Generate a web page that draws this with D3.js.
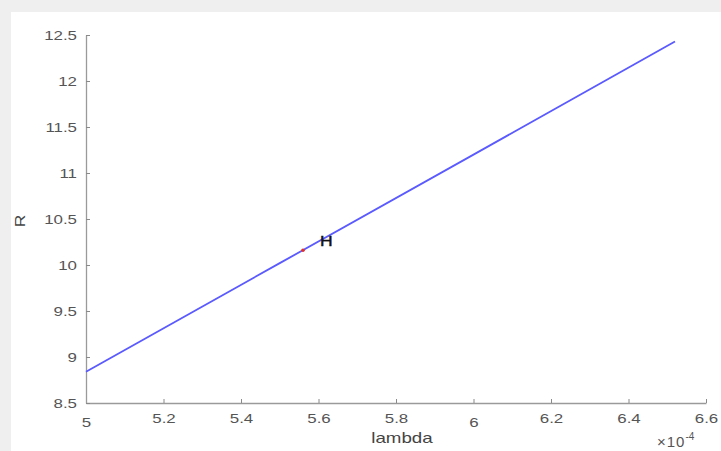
<!DOCTYPE html>
<html>
<head>
<meta charset="utf-8">
<script src="https://cdn.jsdelivr.net/npm/d3@7"></script>
<style>
  html, body { margin: 0; padding: 0; background: #efefef; }
  svg { display: block; }
  text { font-family: "Liberation Sans", Arial, sans-serif; }
</style>
</head>
<body>
<svg id="chart"></svg>
<script>
// values (lambda in units of 1e-4)
const lambda = [5.0, 5.5, 6.0, 6.52];
const R = [8.84, 10.02, 11.2, 12.43];
const pointLambda = [5.56];
const pointR = [10.16];
const pointLabel = ['H'];
const xTicks = [5, 5.2, 5.4, 5.6, 5.8, 6, 6.2, 6.4, 6.6];
const yTicks = [8.5, 9, 9.5, 10, 10.5, 11, 11.5, 12, 12.5];

const W = 721;
const H = 451;
const margin = { top: 35, right: 15, bottom: 48, left: 86 };
const STRETCH = 1.25;

const svg = d3.select('#chart').attr('width', W).attr('height', H);

// white figure panel
svg.append('rect')
  .attr('x', 11).attr('y', 12)
  .attr('width', W - 11).attr('height', H - 12)
  .attr('fill', '#fff');

const x = d3.scaleLinear().domain([5, 6.6]).range([margin.left, W - margin.right]);
const y = d3.scaleLinear().domain([8.5, 12.5]).range([H - margin.bottom, margin.top]);

const fmt = d => d3.format('~g')(d);

const $xAxis = svg.append('g')
  .attr('transform', `translate(0,${y(8.5)})`)
  .call(d3.axisBottom(x).tickValues(xTicks).tickFormat(fmt).tickSize(-4).tickSizeOuter(0).tickPadding(10));

const $yAxis = svg.append('g')
  .attr('transform', `translate(${x(5)},0)`)
  .call(d3.axisLeft(y).tickValues(yTicks).tickFormat(fmt).tickSize(-4).tickSizeOuter(0).tickPadding(9));

[$xAxis, $yAxis].forEach($a => {
  $a.select('.domain').attr('stroke', '#9a9a9a').attr('stroke-width', 1.3);
  $a.selectAll('.tick line').attr('stroke', '#8a8a8a');
  $a.selectAll('.tick text')
    .attr('fill', '#555')
    .attr('font-size', 13.5)
    .attr('font-family', '"Liberation Sans", Arial, sans-serif');
});

// integer labels sit a little lower in the reference
$xAxis.selectAll('.tick text').attr('dy', d => (Number.isInteger(d) ? '1.05em' : '0.71em'));

// data line
const line = d3.line().x((d, i) => x(lambda[i])).y(d => y(d));
svg.append('path')
  .datum(R)
  .attr('d', line)
  .attr('fill', 'none')
  .attr('stroke', '#5a5aff')
  .attr('stroke-width', 1.8);

// marked point
svg.selectAll('circle.pt')
  .data(pointLambda)
  .enter()
  .append('circle')
  .attr('class', 'pt')
  .attr('cx', d => x(d))
  .attr('cy', (d, i) => y(pointR[i]))
  .attr('r', 1.8)
  .attr('fill', '#e03030');

svg.selectAll('text.pt-label')
  .data(pointLabel)
  .enter()
  .append('text')
  .attr('class', 'pt-label')
  .attr('x', (d, i) => x(pointLambda[i]) + 17)
  .attr('y', (d, i) => y(pointR[i]) - 4)
  .attr('font-size', 14)
  .attr('fill', '#111')
  .attr('stroke', '#111')
  .attr('stroke-width', 0.4)
  .text(d => d);

// axis labels
svg.append('text')
  .attr('x', (x(5) + x(6.6)) / 2 + 6)
  .attr('y', 443)
  .attr('text-anchor', 'middle')
  .attr('font-size', 15)
  .attr('fill', '#444')
  .text('lambda');

svg.append('text')
  .attr('transform', `translate(25,${(y(8.5) + y(12.5)) / 2 + 2}) rotate(-90)`)
  .attr('text-anchor', 'middle')
  .attr('font-size', 14)
  .attr('fill', '#444')
  .text('R');

const $exp = svg.append('text')
  .attr('x', 657)
  .attr('y', 447)
  .attr('font-size', 15)
  .attr('letter-spacing', 1)
  .attr('fill', '#555');
$exp.append('tspan').text('\u00d710');
$exp.append('tspan').attr('dy', -7).attr('font-size', 10).attr('letter-spacing', 0).text('-4');

// reference text looks horizontally stretched
svg.selectAll('text').each(function () {
  if (this.querySelector('tspan')) return;
  const len = this.getComputedTextLength();
  d3.select(this).attr('textLength', len * STRETCH).attr('lengthAdjust', 'spacingAndGlyphs');
});
</script>
</body>
</html>
